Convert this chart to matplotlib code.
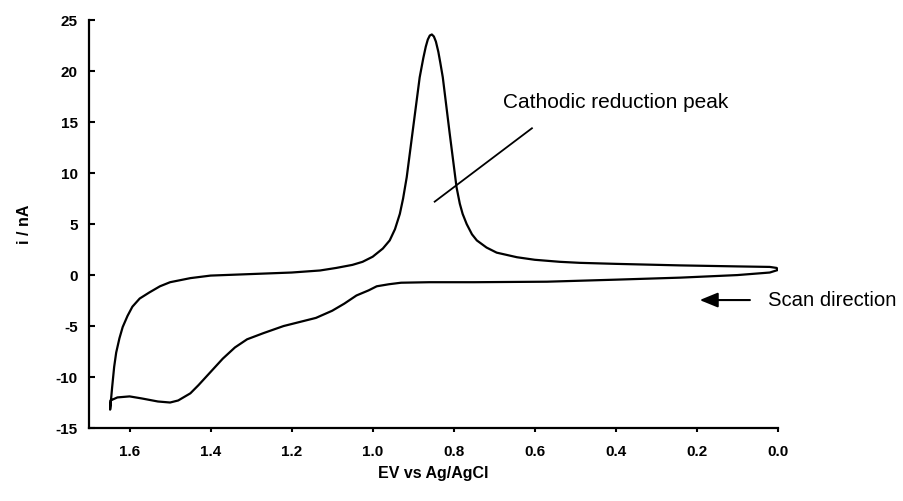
import matplotlib
matplotlib.use('Agg')
import matplotlib.pyplot as plt

plt.rcParams['font.family'] = ['Liberation Sans', 'DejaVu Sans']
plt.rcParams['axes.unicode_minus'] = False

# forward scan: 0.0 V -> 1.65 V (lower branch)
e_fwd = [0.000, 0.020, 0.100, 0.240, 0.400, 0.570, 0.750, 0.860, 0.930, 0.960,
         0.990, 1.010, 1.040, 1.070, 1.100, 1.140, 1.180, 1.220, 1.270, 1.310,
         1.340, 1.370, 1.400, 1.430, 1.450, 1.480, 1.500, 1.530, 1.570, 1.600,
         1.630, 1.647]
i_fwd = [0.5, 0.25, 0.0, -0.25, -0.45, -0.65, -0.7, -0.7, -0.75, -0.9,
         -1.1, -1.5, -2.0, -2.8, -3.5, -4.2, -4.6, -5.0, -5.7, -6.3,
         -7.1, -8.2, -9.5, -10.8, -11.6, -12.3, -12.5, -12.4, -12.1, -11.9,
         -12.0, -12.3]

# reverse scan: 1.65 V -> 0.0 V (upper branch with the reduction peak)
e_rev = [1.648, 1.643, 1.638, 1.633, 1.625, 1.617, 1.605, 1.593, 1.575, 1.551,
         1.525, 1.500, 1.450, 1.400, 1.300, 1.200, 1.130, 1.090, 1.050, 1.025,
         1.000, 0.975, 0.958, 0.945, 0.933, 0.925, 0.916, 0.901, 0.884, 0.875,
         0.869, 0.864, 0.859, 0.854, 0.849, 0.844, 0.838, 0.833, 0.827, 0.810,
         0.793, 0.785, 0.778, 0.768, 0.755, 0.743, 0.719, 0.694, 0.644, 0.600,
         0.538, 0.489, 0.400, 0.242, 0.100, 0.020, 0.003, 0.000]
i_rev = [-13.2, -11.0, -9.0, -7.6, -6.2, -5.1, -4.0, -3.1, -2.3, -1.7,
         -1.1, -0.7, -0.3, -0.05, 0.1, 0.25, 0.45, 0.7, 1.0, 1.3,
         1.8, 2.6, 3.4, 4.5, 6.0, 7.5, 9.6, 14.2, 19.4, 21.3,
         22.4, 23.1, 23.5, 23.6, 23.4, 22.9, 21.9, 20.8, 19.4, 13.9,
         8.6, 7.0, 6.0, 5.0, 4.0, 3.4, 2.7, 2.2, 1.75, 1.5,
         1.3, 1.2, 1.1, 0.95, 0.85, 0.8, 0.7, 0.55]

x_ticks = [1.6, 1.4, 1.2, 1.0, 0.8, 0.6, 0.4, 0.2, 0.0]
x_labels = ['1.6', '1.4', '1.2', '1.0', '0.8', '0.6', '0.4', '0.2', '0.0']
y_ticks = [-15, -10, -5, 0, 5, 10, 15, 20, 25]

fig = plt.figure(figsize=(9.04, 5.01), dpi=100)
ax = fig.add_axes([0.0985, 0.1457, 0.762, 0.814])

ax.plot(e_fwd + e_rev, i_fwd + i_rev, color='black', lw=1.6,
        solid_joinstyle='round', solid_capstyle='round')

ax.set_xlim(1.70, 0.0)
ax.set_ylim(-15, 25)
ax.set_xticks(x_ticks)
ax.set_xticklabels(x_labels)
ax.set_yticks(y_ticks)

for s in ['top', 'right']:
    ax.spines[s].set_visible(False)
for s in ['left', 'bottom']:
    ax.spines[s].set_linewidth(1.6)

ax.tick_params(axis='y', direction='in', length=4, width=1.5, pad=8,
               labelsize=11)
ax.tick_params(axis='x', direction='out', length=3, width=1.5, pad=9,
               labelsize=11)
for lbl in ax.get_xticklabels() + ax.get_yticklabels():
    lbl.set_fontweight('bold')

ax.set_xlabel('EV vs Ag/AgCl', fontsize=11.5, fontweight='bold', labelpad=5)
ax.set_ylabel('i / nA', fontsize=11.5, fontweight='bold', labelpad=17)

# peak annotation
ax.plot([0.847, 0.607], [7.2, 14.4], color='black', lw=1.3)
ax.text(0.679, 16.9, 'Cathodic reduction peak', fontsize=15,
        ha='left', va='center')

# scan direction arrow, outside the axes on the right
ax.annotate('', xy=(0.193, -2.45), xytext=(0.069, -2.45),
            arrowprops=dict(arrowstyle='-|>,head_length=1.1,head_width=0.45',
                            color='black', lw=1.5, shrinkA=0, shrinkB=0),
            annotation_clip=False)
ax.text(0.025, -2.45, 'Scan direction', fontsize=14.6, ha='left',
        va='center', clip_on=False)

fig.savefig('out.png', dpi=100)
